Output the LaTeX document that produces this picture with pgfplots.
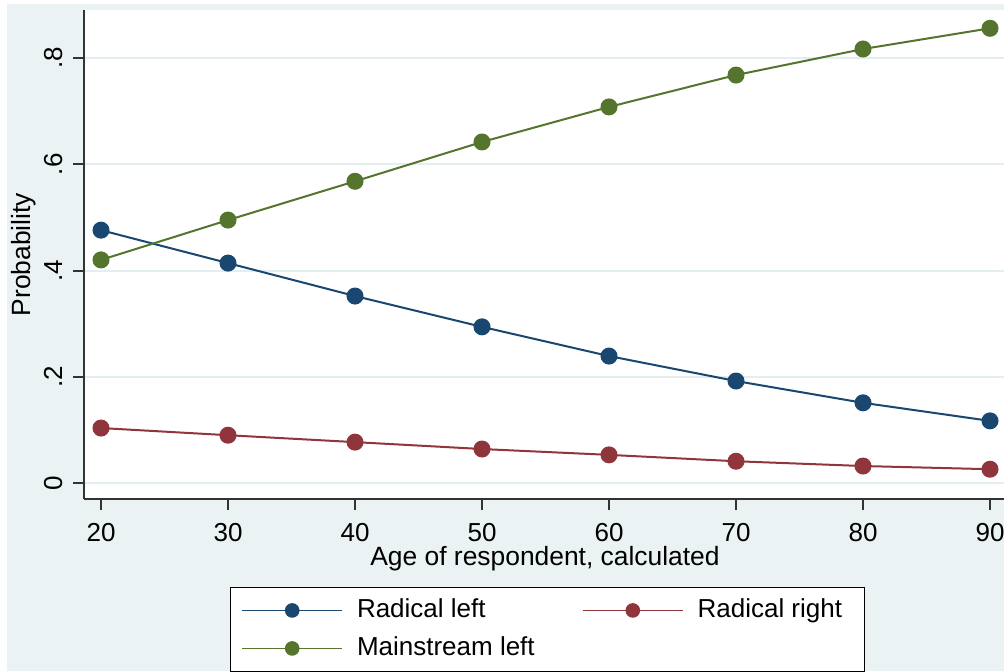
\documentclass[border=0pt]{standalone}
\usepackage{fontspec}
\setmainfont{Liberation Sans}
\usepackage{pgfplots}
\pgfplotsset{compat=1.18}
\definecolor{bgc}{HTML}{EAF2F3}
\definecolor{gridc}{HTML}{E4EDF0}
\definecolor{navy}{HTML}{1A476F}
\definecolor{maroon}{HTML}{90353B}
\definecolor{fgreen}{HTML}{55752F}
\definecolor{axc}{HTML}{333333}
\begin{document}
\begin{tikzpicture}
\useasboundingbox (0,0) rectangle (502pt,-335.5pt);
\clip (0,0) rectangle (502pt,-335.5pt);
\fill[white] (0,0) rectangle (502pt,-335.5pt);
\fill[bgc] (3.5pt,-2pt) rectangle (502pt,-335.5pt);
\begin{axis}[
  at={(42pt,-249.5pt)}, anchor=south west,
  scale only axis, width=461pt, height=244.5pt,
  xmin=18.661, xmax=91.26, ymin=-0.0301, ymax=0.8904,
  axis background/.style={fill=white},
  axis x line*=bottom, axis y line*=left,
  axis line style={axc, line width=1pt},
  tick style={axc, line width=1pt},
  tick align=outside, major tick length=5.5pt,
  xtick={20,30,40,50,60,70,80,90},
  xticklabels={20,30,40,50,60,70,80,90},
  ytick={0,0.2,0.4,0.6,0.8},
  yticklabels={0,.2,.4,.6,.8},
  ymajorgrids, grid style={gridc, line width=1pt},
  ticklabel style={font=\fontsize{13}{15.6}\selectfont},
  xticklabel style={anchor=base}, xticklabel shift=15.75pt,
  yticklabel style={rotate=90, anchor=base}, yticklabel shift=5.5pt,
  xlabel={Age of respondent, calculated},
  ylabel={Probability},
  label style={font=\fontsize{13.2}{15.8}\selectfont},
  xlabel style={at={(axis description cs:0.5,0)}, anchor=base, yshift=-33.25pt},
  ylabel style={at={(axis description cs:-0.0575,0.5)}, anchor=base},
  legend columns=2,
  legend image code/.code={\draw[line width=0.8pt, mark size=3.25pt, mark repeat=2,mark phase=2] plot coordinates {(0pt,0pt) (25pt,0pt) (50pt,0pt)};},
  legend style={at={(axis description cs:0.15835,-0.18)}, anchor=north west,
    draw=black, fill=white, inner xsep=5.5pt, inner ysep=5.4pt, row sep=6.8pt,
    font=\fontsize{13}{15.6}\selectfont,
    nodes={inner sep=0pt, text height=9.5pt, text depth=2.7pt},
    cells={anchor=west},
    /tikz/every odd column/.append style={column sep=7pt},
    /tikz/every even column/.append style={column sep=0pt}},
  every axis plot/.append style={line width=1pt, mark=*, mark size=3.75pt},
]
\addplot[navy, mark options={fill=navy, draw=navy}] coordinates {
 (20,0.476) (30,0.414) (40,0.352) (50,0.294) (60,0.239) (70,0.192) (80,0.151) (90,0.117)};
\addlegendentry{\makebox[112.5pt][l]{Radical left}}
\addplot[maroon, mark options={fill=maroon, draw=maroon}] coordinates {
 (20,0.1035) (30,0.090) (40,0.077) (50,0.064) (60,0.053) (70,0.041) (80,0.032) (90,0.026)};
\addlegendentry{\makebox[78pt][l]{Radical right}}
\addplot[fgreen, mark options={fill=fgreen, draw=fgreen}] coordinates {
 (20,0.420) (30,0.495) (40,0.568) (50,0.642) (60,0.708) (70,0.768) (80,0.817) (90,0.856)};
\addlegendentry{\makebox[112.5pt][l]{Mainstream left}}
\end{axis}
\end{tikzpicture}
\end{document}
